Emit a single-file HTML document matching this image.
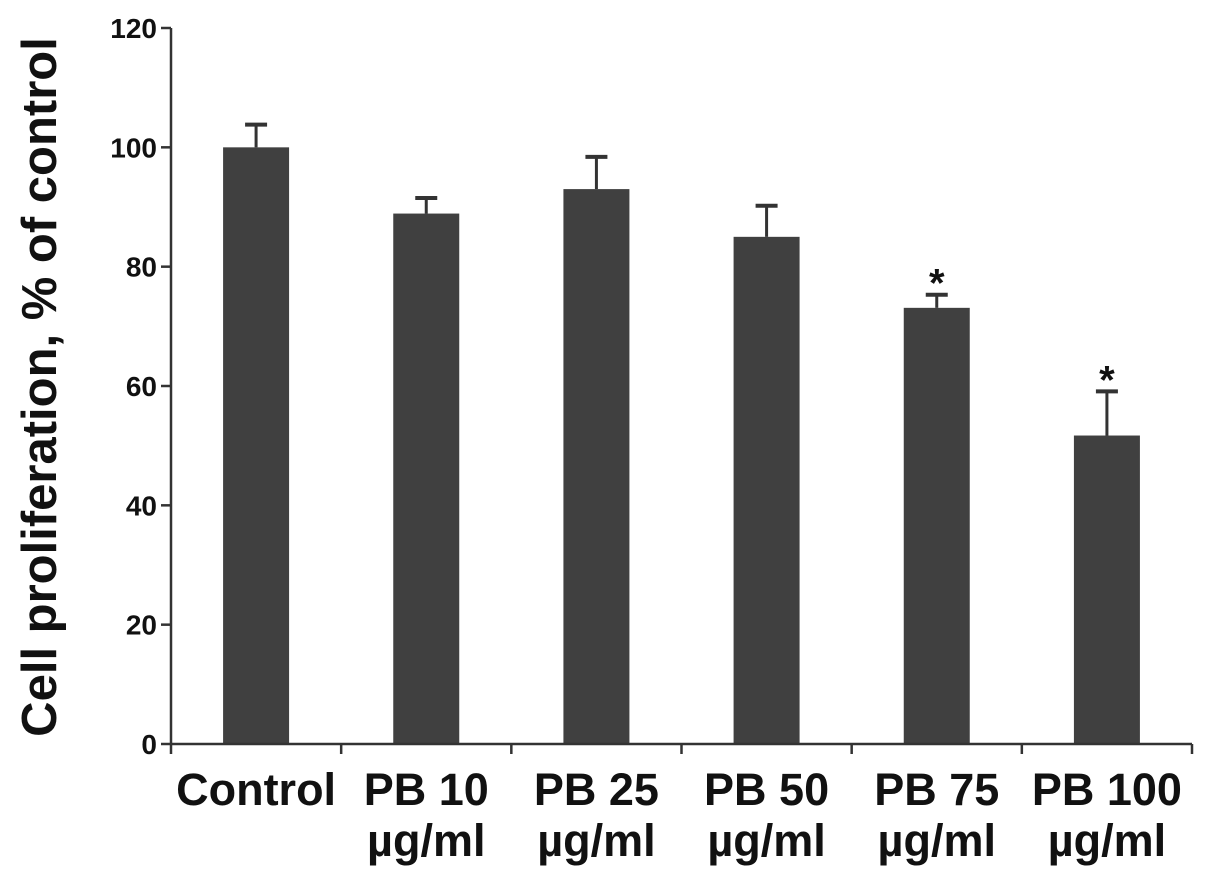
<!DOCTYPE html>
<html><head><meta charset="utf-8"><style>
html,body{margin:0;padding:0;background:#fff;}
svg{display:block;font-family:"Liberation Sans",Arial,sans-serif;font-weight:bold;}
</style></head><body>
<svg id="chart" width="1205" height="878" viewBox="0 0 1205 878"></svg>
<script>
const categories = ["Control","PB 10","PB 25","PB 50","PB 75","PB 100"];
const subLabels = ["","µg/ml","µg/ml","µg/ml","µg/ml","µg/ml"];
const values = [100, 88.9, 93.0, 85.0, 73.1, 51.7];
const errors = [3.8, 2.6, 5.4, 5.2, 2.2, 7.4];
const significant = [false,false,false,false,true,true];
const yTicks = [0,20,40,60,80,100,120];

const NS="http://www.w3.org/2000/svg";
const svg=document.getElementById('chart');
const x0=171, x1=1192, yZero=744, yTop=28, yMax=120;
const step=(x1-x0)/categories.length;
const barW=66;
function y(v){return yZero-(v/yMax)*(yZero-yTop);}
function xc(i){return x0+step*(i+0.5);}
function mk(tag,attrs,parent){const e=document.createElementNS(NS,tag);for(const k in attrs)e.setAttribute(k,attrs[k]);(parent||svg).appendChild(e);return e;}

categories.forEach((c,i)=>{
  const v=values[i], e=errors[i], cx=xc(i);
  const r=mk('rect',{x:cx-barW/2,y:y(v),width:barW,height:yZero-y(v),fill:'#404040'});
  
  
  const l=mk('line',{x1:cx,x2:cx,y1:y(v),y2:y(v+e),stroke:'#333','stroke-width':3});
  
  
  const cap=mk('line',{x1:cx-11,x2:cx+11,y1:y(v+e),y2:y(v+e),stroke:'#333','stroke-width':4});
  
  
  if(significant[i]){
    const s=mk('text',{x:cx,y:y(v+e)+2,'text-anchor':'middle','font-size':40,fill:'#111'});
    s.textContent='*';
    
    
  }
  const t=mk('text',{x:cx,y:805,'text-anchor':'middle','font-size':45,fill:'#111'});
  t.textContent=c;
  
  
  if(subLabels[i]){
    const t2=mk('text',{x:cx,y:856,'text-anchor':'middle','font-size':45,fill:'#111'});
    t2.textContent=subLabels[i];
    
    
  }
});

const ya=mk('line',{x1:x0,x2:x0,y1:yTop,y2:yZero,stroke:'#333','stroke-width':2.5});


const xa=mk('line',{x1:x0,x2:x1,y1:yZero,y2:yZero,stroke:'#333','stroke-width':2.5});


for(let i=0;i<=categories.length;i++){
  const xx=x0+step*i;
  const tk=mk('line',{x1:xx,x2:xx,y1:yZero,y2:yZero+10,stroke:'#333','stroke-width':2.5});
  
  
}
yTicks.forEach(v=>{
  const tk=mk('line',{x1:x0-10,x2:x0,y1:y(v),y2:y(v),stroke:'#333','stroke-width':2.5});
  
  
  const t=mk('text',{x:x0-14,y:y(v)+10,'text-anchor':'end','font-size':28,fill:'#111'});
  t.textContent=v;
  
  
});
const yt=mk('text',{x:0,y:0,'text-anchor':'middle','font-size':49,fill:'#111',transform:'translate(56,387) rotate(-90)'});
yt.textContent='Cell proliferation, % of control';


</script>
</body></html>
